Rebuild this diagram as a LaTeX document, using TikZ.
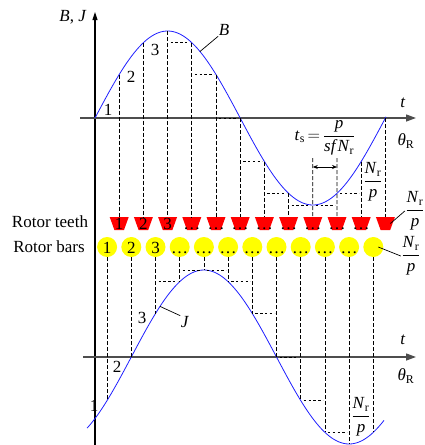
\documentclass[tikz,border=0pt]{standalone}
\usepackage{fontspec}
\setmainfont{Liberation Serif}
\usetikzlibrary{arrows.meta,positioning,calc}
\definecolor{curveblue}{HTML}{1F1FFF}
\definecolor{toothred}{HTML}{FF0000}
\definecolor{baryellow}{HTML}{FFFF00}
\definecolor{axisgrey}{HTML}{4D4D4D}
\newcommand{\frc}[2]{$\displaystyle\frac{\mbox{#1}}{\mbox{#2}}$}
\newcommand{\Nr}{\textit{N}\textsubscript{r}}
\newcommand{\slotlbl}[1]{\ifnum#1<4 #1\else\ifnum#1<12 \dots\fi\fi}
\tikzset{txt/.style={font=\fontsize{17}{20}\selectfont,inner sep=0.5pt},inlbl/.style={txt,inner sep=0pt,text height=12pt,text depth=0pt},xaxis/.style={line width=1.3pt,draw=axisgrey,-{Triangle[length=10pt,width=7pt]}},yaxis/.style={line width=1.1pt,-{Triangle[length=8pt,width=5pt]}},curve/.style={draw=curveblue,line width=0.8pt},drop/.style={line width=0.8pt,draw=black,dash pattern=on 4pt off 2pt},stair/.style={line width=0.8pt,dash pattern=on 2.4pt off 2.4pt,shorten <=3pt,shorten >=2pt},tooth/.style={inlbl,rectangle,minimum width=19pt,minimum height=13pt,path picture={\fill[toothred] (path picture bounding box.north west)--(path picture bounding box.north east)--([xshift=-4.7pt]path picture bounding box.south east)--([xshift=4.7pt]path picture bounding box.south west)--cycle;}},bar/.style={circle,fill=baryellow,minimum size=20pt,inner sep=0pt},lead/.style={line width=0.7pt},dim/.style={line width=0.7pt,{Stealth[length=5pt,width=4pt]}-{Stealth[length=5pt,width=4pt]}}}

\begin{document}
\begin{tikzpicture}[x=1pt,y=-1pt]
\useasboundingbox (0,0) rectangle (425,445);
% axes
\coordinate (yb) at (95,445);\coordinate (yt) at (95,12);
\coordinate (xa) at (80,118);\coordinate (xb) at (416,118);
\coordinate (xc) at (83,357);\coordinate (xd) at (416,357);
\draw[yaxis] (yb)--(yt);
\draw[xaxis] (xa)--(xb);\draw[xaxis] (xc)--(xd);
\node[txt] (bj) at (73,17) {\textit{B}, \textit{J}};
\node[txt] (tTop) at (403,103) {\textit{t}};
\node[txt] (thTop) at (406,141) {\textit{θ}\textsubscript{R}};
\node[txt] (tBot) at (403,340) {\textit{t}};
\node[txt] (thBot) at (406,376) {\textit{θ}\textsubscript{R}};
% curves
\draw[curve] plot[domain=95:386,samples=120] (\x,{118-87*sin(30*(\x-95)/24.2)});
\draw[curve] plot[domain=87:384,samples=120] (\x,{357-87*sin(30*(\x-131.3)/24.2)});
% rotor teeth
\foreach \k in {1,...,12}{
  \pgfmathsetmacro\xk{95+24.2*\k}
  \node[tooth] (th\k) at (\xk,223.5) {\slotlbl{\k}};
  \coordinate (b\k) at (\xk,{118-87*sin(30*\k)});
}
\foreach \k in {1,...,8,11,12} \draw[drop] (b\k)--(th\k);
\coordinate (s9) at (312.8,158);\coordinate (s10) at (337,158);
\draw[drop] (s9)--(th9);\draw[drop] (s10)--(th10);
\foreach \k in {3,...,10}{
  \pgfmathsetmacro\ys{max(118-87*sin(30*\k),118-87*sin(30*(\k+1)))}
  \draw[stair] ({95+24.2*\k},\ys)--({119.2+24.2*\k},\ys);
}
% rotor bars
\foreach \k in {1,...,12}{
  \pgfmathsetmacro\xb{95+24.2*(\k-0.5)}
  \node[bar] (r\k) at (\xb,247) {};
  \node[inlbl] (rl\k) at (r\k.center) {\slotlbl{\k}};
  \coordinate (j\k) at (\xb,{357-87*sin(30*(\k-2))});
  \draw[drop] (r\k)--(j\k);
}
\foreach \k in {3,...,10}{
  \pgfmathsetmacro\ys{min(357-87*sin(30*(\k-2)),357-87*sin(30*(\k-1)))}
  \draw[stair] ({82.9+24.2*\k},\ys)--({107.1+24.2*\k},\ys);
}
\node[txt] (teethlbl) at (50,222) {Rotor teeth};
\node[txt] (barslbl) at (49,247) {Rotor bars};
% slot pitch and t_s
\coordinate (a9) at (312.8,167);\coordinate (a10) at (337,167);
\draw[dim] (a9)--(a10);
\node[txt] (tsl) at (325,138) {\textit{t}\textsubscript{s}\,$=$\,\frc{\textit{p}}{\textit{sf}\Nr}};
\node[txt] (frS) at (373,182) {\frc{\Nr}{\textit{p}}};
\node[txt] (frT) at (415,211) {\frc{\Nr}{\textit{p}}};
\node[txt] (frR) at (411,256) {\frc{\Nr}{\textit{p}}};
\node[txt] (frJ) at (361,417) {\frc{\Nr}{\textit{p}}};
\draw[lead] ([xshift=5pt]th12.center)--(frT.west);
\draw[lead] ([xshift=5pt]r12.center)--(frR.west);
% curve labels
\coordinate (cB) at (200,51.5);\node[txt] (lB) at (224,30) {\textit{B}};
\draw[lead] (cB)--(lB.south west);
\coordinate (cJ) at (160,306.4);\node[txt] (lJ) at (185,322) {\textit{J}};
\draw[lead] (cJ)--(lJ.north west);
\node[txt] (n1) at (108,110) {1};\node[txt] (n2) at (131,77) {2};\node[txt] (n3) at (155,50) {3};
\node[txt] (m1) at (94,406) {1};\node[txt] (m2) at (117,367) {2};\node[txt] (m3) at (142,318) {3};
\end{tikzpicture}
\end{document}
